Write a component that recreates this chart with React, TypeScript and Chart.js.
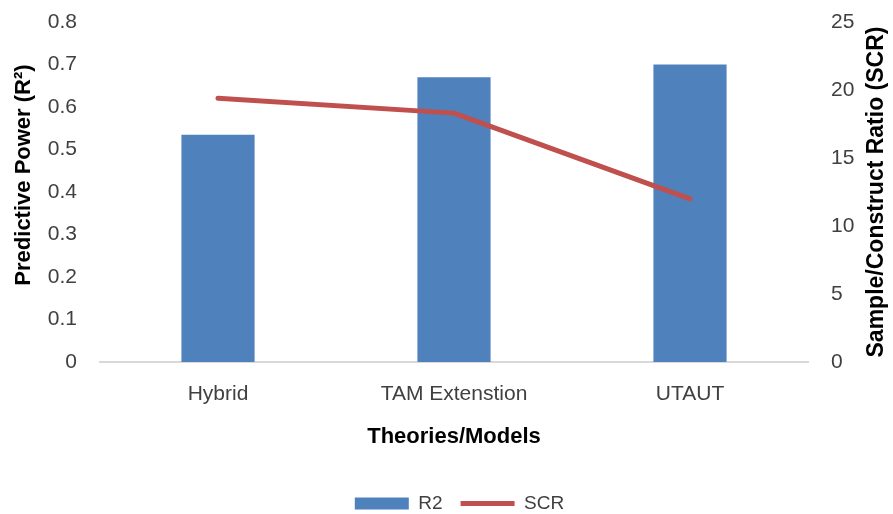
import React, { useEffect, useRef } from "react";
import { Chart, registerables } from "chart.js";

Chart.register(...registerables);

const categories = ["Hybrid", "TAM Extenstion", "UTAUT"];
const r2Values = [0.535, 0.67, 0.7];
const scrValues = [19.4, 18.3, 12];
const leftTicks = { min: 0, max: 0.8, step: 0.1 };
const rightTicks = { min: 0, max: 25, step: 5 };
const leftTitle = "Predictive Power (R²)";
const rightTitle = "Sample/Construct Ratio (SCR)";
const xTitle = "Theories/Models";

const FONT = "'Liberation Sans', Arial, sans-serif";
const TICK_COLOR = "#404040";

const W = 893;
const H = 514;
const PLOT_LEFT = 100;
const PLOT_RIGHT = 808;
const PLOT_TOP = 22;
const PLOT_BOTTOM = 362;
const LEGEND_SHIFT = 9;

const axisTitlesPlugin = {
  id: "axisTitles",
  afterLayout(chart: any) {
    const l = chart.legend;
    if (l) {
      l.left += 13;
      l.right += 13;
    }
  },
  afterDraw(chart: any) {
    const ctx = chart.ctx;
    const area = chart.chartArea;
    ctx.save();
    ctx.fillStyle = "#000000";
    ctx.textAlign = "center";
    ctx.textBaseline = "middle";
    ctx.save();
    ctx.translate(24, area.top + 153);
    ctx.rotate(-Math.PI / 2);
    ctx.font = `bold 22px ${FONT}`;
    ctx.fillText(leftTitle, 0, 0);
    ctx.restore();
    ctx.save();
    ctx.translate(877, (area.top + area.bottom) / 2);
    ctx.rotate(-Math.PI / 2);
    ctx.font = `bold 23px ${FONT}`;
    ctx.fillText(rightTitle, 0, 0);
    ctx.restore();
    ctx.restore();
  },
};

export default function App() {
  const ref = useRef<HTMLCanvasElement | null>(null);

  useEffect(() => {
    document.body.style.margin = "0";
    const canvas = ref.current;
    if (!canvas) return;
    const chart = new Chart(canvas, {
      type: "bar",
      data: {
        labels: categories,
        datasets: [
          {
            type: "bar",
            label: "R2",
            data: r2Values,
            backgroundColor: "#4F81BD",
            borderWidth: 0,
            yAxisID: "y",
            categoryPercentage: 1,
            barPercentage: 0.31,
            order: 1,
            pointStyle: "rect",
          } as any,
          {
            type: "line",
            label: "SCR",
            data: scrValues,
            borderColor: "#C0504D",
            backgroundColor: "#C0504D",
            borderWidth: 5,
            borderCapStyle: "round",
            borderJoinStyle: "round",
            pointRadius: 0,
            pointHoverRadius: 0,
            tension: 0,
            yAxisID: "y1",
            order: 0,
            pointStyle: "line",
          } as any,
        ],
      },
      options: {
        animation: false,
        responsive: false,
        maintainAspectRatio: false,
        layout: { padding: { top: PLOT_TOP, bottom: -LEGEND_SHIFT, left: 0, right: 0 } },
        plugins: {
          tooltip: { enabled: false },
          legend: {
            display: true,
            position: "bottom",
            labels: {
              usePointStyle: true,
              pointStyleWidth: 54,
              boxHeight: 12,
              padding: 18,
              color: TICK_COLOR,
              font: { family: FONT, size: 19 },
              sort: (a: any, b: any) => a.datasetIndex - b.datasetIndex,
            },
          },
        },
        scales: {
          x: {
            grid: { display: false, drawTicks: false },
            border: { display: true, color: "#D9D9D9", width: 2 },
            ticks: {
              color: TICK_COLOR,
              font: { family: FONT, size: 21 },
              padding: 20,
              maxRotation: 0,
            },
            title: {
              display: true,
              text: xTitle,
              color: "#000000",
              font: { family: FONT, size: 22, weight: "bold" },
              padding: { top: 0, bottom: 26 },
            },
            afterFit: (s: any) => {
              const lh = s.chart.legend ? s.chart.legend.height : 0;
              s.height = H + LEGEND_SHIFT - lh - PLOT_BOTTOM;
              s.paddingLeft = 0;
              s.paddingRight = 0;
            },
          } as any,
          y: {
            position: "left",
            min: leftTicks.min,
            max: leftTicks.max,
            grid: { display: false, drawTicks: false },
            border: { display: false },
            ticks: {
              stepSize: leftTicks.step,
              color: TICK_COLOR,
              font: { family: FONT, size: 21 },
              padding: 23,
            },
            afterFit: (s: any) => {
              s.width = PLOT_LEFT;
              s.paddingTop = 0;
              s.paddingBottom = 0;
            },
          } as any,
          y1: {
            position: "right",
            min: rightTicks.min,
            max: rightTicks.max,
            grid: { display: false, drawTicks: false },
            border: { display: false },
            ticks: {
              stepSize: rightTicks.step,
              color: TICK_COLOR,
              font: { family: FONT, size: 21 },
              padding: 23,
            },
            afterFit: (s: any) => {
              s.width = W - PLOT_RIGHT;
              s.paddingTop = 0;
              s.paddingBottom = 0;
            },
          } as any,
        },
      },
      plugins: [axisTitlesPlugin],
    });
    return () => chart.destroy();
  }, []);

  return (
    <div style={{ width: W, height: H, position: "relative", overflow: "hidden" }}>
      <canvas ref={ref} width={W} height={H} style={{ display: "block" }} />
    </div>
  );
}
